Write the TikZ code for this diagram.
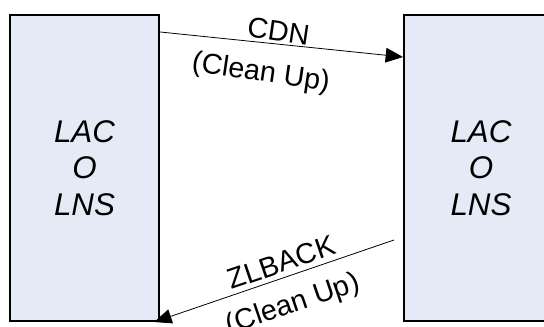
\documentclass[tikz,border=0pt]{standalone}
\usepackage{fontspec}
\setmainfont{Liberation Sans}
\usetikzlibrary{positioning, arrows.meta, calc}
\definecolor{boxfill}{RGB}{228,235,246}
\tikzset{
  blk/.style = {draw, line width=1.5pt, fill=boxfill, align=center,
                minimum height=306*0.75pt, inner sep=0pt,
                font=\fontsize{23.5}{27.5}\selectfont\itshape},
  ar/.style  = {-{Triangle[length=13pt, width=11pt]}, line width=0.6pt},
  lbl/.style = {sloped, inner sep=0pt, font=\fontsize{21.5}{25}\selectfont},
}
\begin{document}
\begin{tikzpicture}[x=0.75pt, y=-0.75pt]
  \clip (0,0) rectangle (544,327);
  % the two ends
  \node[blk, minimum width=149.5*0.75pt] (lacL) at (84.5,168) {LAC\\O\\LNS};
  \node[blk, minimum width=154*0.75pt] (lacR) at (481,168) {LAC\\O\\LNS};
  % connector ends
  \coordinate (cdnS) at ($(lacL.north east)+(0,18)$);
  \coordinate (cdnE) at ($(lacR.north west)+(0,43)$);
  \coordinate (zlbS) at ($(lacR.south west)+(-9,-82)$);
  \coordinate (zlbE) at ($(lacL.south east)+(-6,0)$);
  % messages
  \draw[ar] (cdnS) -- (cdnE)
    node[lbl, rotate=-2.5, above=1.5pt, pos=0.48] (cdn) {CDN}
    node[lbl, rotate=-2.5, below=13pt, pos=0.43] (cdnc) {(Clean Up)};
  \draw[ar] (zlbS) -- (zlbE)
    node[lbl, above=3.5pt, pos=0.45] (zlb) {ZLBACK}
    node[lbl, below=11.5pt, pos=0.46] (zlbc) {(Clean Up)};
\end{tikzpicture}
\end{document}
